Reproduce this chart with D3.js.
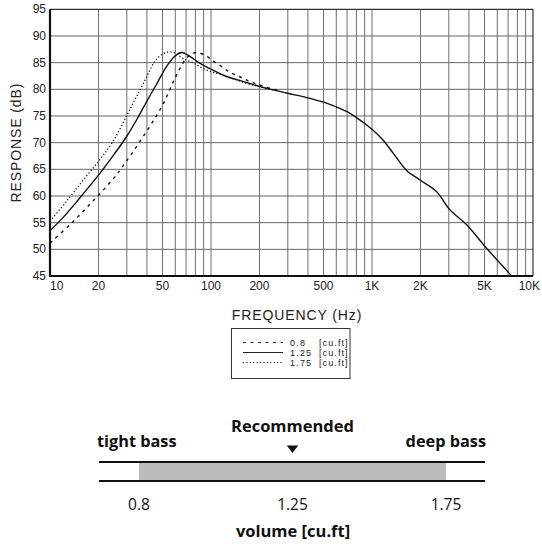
<!DOCTYPE html>
<html lang="en">
  <head>
    <meta charset="UTF-8">
    <title>Frequency Response</title>
    <style>
      body { margin: 0; background: #fff; }
    </style>
  </head>
  <body>
    <div id="chart"></div>
    <script src="https://d3js.org/d3.v7.min.js"></script>
    <script>
      // response curves (Hz / dB)
      const freq08  = [10, 13.6, 18.4, 24.7, 28.2, 35.8, 49.5, 60, 69, 75, 81.5, 93, 103, 116, 131, 150, 170, 192, 220, 260];
      const db08    = [51.2, 54.9, 59.0, 63.2, 65.5, 70.0, 76.8, 82.2, 85.5, 86.5, 86.9, 86.3, 85.3, 84.3, 83.2, 82.4, 81.6, 81.0, 80.4, 79.8];

      const freq125 = [10, 12, 15, 20, 25, 30, 35, 40, 46, 53, 60, 66, 72, 85, 103, 125, 166, 202, 295, 400, 500, 600, 700, 800, 900, 1000, 1170, 1356, 1640, 1987, 2520, 3050, 3870, 5150, 7380];
      const db125   = [53.5, 55.9, 59.3, 63.9, 67.8, 71.2, 74.6, 77.8, 81, 84.3, 86.3, 86.9, 86.4, 84.9, 83.6, 82.4, 81.3, 80.5, 79.3, 78.4, 77.6, 76.7, 75.8, 74.7, 73.6, 72.5, 70.5, 68.0, 64.8, 63.0, 60.8, 57.4, 54.6, 50.2, 45];

      const freq175 = [10, 12.5, 16, 20, 24.6, 29.9, 34, 38, 45, 50.6, 55, 60, 67, 78, 94, 113, 138, 166, 202, 260];
      const db175   = [55.3, 58.8, 62.9, 66.5, 70.2, 75, 78.3, 81.1, 85.3, 86.7, 87, 86.8, 85.8, 84.9, 83.6, 82.8, 82.0, 81.1, 80.5, 79.7];

      // axis ticks
      const xTicks = [10, 20, 50, 100, 200, 500, 1000, 2000, 5000, 10000];
      const xTickLabels = ["10", "20", "50", "100", "200", "500", "1K", "2K", "5K", "10K"];
      const yTicks = [45, 50, 55, 60, 65, 70, 75, 80, 85, 90, 95];

      // legend
      const legendValues = ["0.8", "1.25", "1.75"];
      const legendUnit = "[cu.ft]";

      // volume scale
      const volumeLabels = ["0.8", "1.25", "1.75"];
      const recommended = "1.25";

      const svg = d3.select("#chart")
        .append("svg")
        .attr("width", 542)
        .attr("height", 549);

      const plot = { left: 50, right: 533, top: 9.3, bottom: 276 };

      const x = d3.scaleLog().domain([10, 10000]).range([plot.left, plot.right]);
      const y = d3.scaleLinear().domain([45, 95]).range([plot.bottom, plot.top]);

      // grid lines
      const gridFreqs = [];
      [10, 100, 1000].forEach(function(dec) {
        for (let i = 1; i <= 9; i++) gridFreqs.push(dec * i);
      });

      svg.append("g")
        .selectAll("line")
        .data(gridFreqs.filter(f => f > 10))
        .enter()
        .append("line")
        .attr("x1", d => x(d)).attr("x2", d => x(d))
        .attr("y1", plot.top).attr("y2", plot.bottom)
        .attr("stroke", "#707070")
        .attr("stroke-width", 1);

      svg.append("g")
        .selectAll("line")
        .data(yTicks.filter(v => v > 45 && v < 95))
        .enter()
        .append("line")
        .attr("x1", plot.left).attr("x2", plot.right)
        .attr("y1", d => y(d)).attr("y2", d => y(d))
        .attr("stroke", "#666")
        .attr("stroke-width", 1);

      // frame
      svg.append("line").attr("x1", plot.left).attr("x2", plot.right)
        .attr("y1", plot.top).attr("y2", plot.top)
        .attr("stroke", "#333").attr("stroke-width", 1.2);
      svg.append("line").attr("x1", plot.right).attr("x2", plot.right)
        .attr("y1", plot.top).attr("y2", plot.bottom)
        .attr("stroke", "#333").attr("stroke-width", 1.2);
      svg.append("line").attr("x1", plot.left).attr("x2", plot.left)
        .attr("y1", plot.top).attr("y2", plot.bottom + 1)
        .attr("stroke", "#111").attr("stroke-width", 2.2);
      svg.append("line").attr("x1", plot.left - 1).attr("x2", plot.right)
        .attr("y1", plot.bottom).attr("y2", plot.bottom)
        .attr("stroke", "#111").attr("stroke-width", 2.2);

      // clip so the curve stops at the frame
      svg.append("clipPath").attr("id", "clip")
        .append("rect")
        .attr("x", plot.left).attr("y", plot.top)
        .attr("width", plot.right - plot.left)
        .attr("height", plot.bottom - plot.top);

      const line = d3.line()
        .x(d => x(d[0]))
        .y(d => y(d[1]))
        .curve(d3.curveCatmullRom.alpha(0.5));

      const series = [
        { f: freq08,  v: db08,  dash: "3,4.5", width: 1.4 },
        { f: freq125, v: db125, dash: null,    width: 1.4 },
        { f: freq175, v: db175, dash: "1.2,2.2", width: 1.3 }
      ];

      svg.append("g")
        .attr("clip-path", "url(#clip)")
        .selectAll("path")
        .data(series)
        .enter()
        .append("path")
        .attr("d", s => line(s.f.map((f, i) => [f, s.v[i]])))
        .attr("fill", "none")
        .attr("stroke", "#111")
        .attr("stroke-width", s => s.width)
        .attr("stroke-dasharray", s => s.dash);

      // tick labels; first one starts at the frame, last one ends at the page edge
      const tickFont = "Arial, 'Liberation Sans', Helvetica, sans-serif";
      const lastTick = xTicks[xTicks.length - 1];

      svg.append("g")
        .selectAll("text")
        .data(xTicks)
        .enter()
        .append("text")
        .attr("x", d => d === lastTick ? x(d) + 7 : x(d))
        .attr("y", 290)
        .attr("text-anchor", d => d === 10 ? "start" : (d === lastTick ? "end" : "middle"))
        .style("font-family", tickFont)
        .style("font-size", "12px")
        .style("fill", "#222")
        .text((d, i) => xTickLabels[i]);

      svg.append("g")
        .selectAll("text")
        .data(yTicks)
        .enter()
        .append("text")
        .attr("x", 46)
        .attr("y", d => y(d) + 4)
        .attr("text-anchor", "end")
        .style("font-family", tickFont)
        .style("font-size", "12px")
        .style("fill", "#222")
        .text(d => d);

      // axis titles
      svg.append("text")
        .attr("x", 297)
        .attr("y", 320)
        .attr("text-anchor", "middle")
        .style("font-family", tickFont)
        .style("font-size", "14px")
        .style("letter-spacing", "0.9px")
        .style("fill", "#222")
        .text("FREQUENCY (Hz)");

      svg.append("text")
        .attr("transform", "translate(21," + ((plot.top + plot.bottom) / 2) + ") rotate(-90)")
        .attr("text-anchor", "middle")
        .style("font-family", tickFont)
        .style("font-size", "14px")
        .style("letter-spacing", "0.9px")
        .style("fill", "#222")
        .text("RESPONSE (dB)");

      // legend box
      const legend = svg.append("g");
      legend.append("rect")
        .attr("x", 231.5).attr("y", 328.5)
        .attr("width", 118.5).attr("height", 50)
        .attr("fill", "none")
        .attr("stroke", "#333")
        .attr("stroke-width", 1);

      legend.selectAll("line")
        .data(series)
        .enter()
        .append("line")
        .attr("x1", 243).attr("x2", 283)
        .attr("y1", (d, i) => 342.5 + i * 10)
        .attr("y2", (d, i) => 342.5 + i * 10)
        .attr("stroke", "#222")
        .attr("stroke-width", 1.2)
        .attr("stroke-dasharray", d => d.dash);

      legend.selectAll(".lv")
        .data(legendValues)
        .enter()
        .append("text")
        .attr("class", "lv")
        .attr("x", 290)
        .attr("y", (d, i) => 345.5 + i * 10)
        .style("font-family", tickFont)
        .style("font-size", "9px")
        .style("letter-spacing", "1.2px")
        .style("fill", "#222")
        .text(d => d);

      legend.selectAll(".lu")
        .data(legendValues)
        .enter()
        .append("text")
        .attr("class", "lu")
        .attr("x", 319)
        .attr("y", (d, i) => 345.5 + i * 10)
        .style("font-family", tickFont)
        .style("font-size", "9px")
        .style("letter-spacing", "1.1px")
        .style("fill", "#222")
        .text(legendUnit);

      // volume bar
      const bold = "'Open Sans', sans-serif";
      const v = d3.scalePoint().domain(volumeLabels).range([139, 446]);

      svg.append("rect")
        .attr("x", v(volumeLabels[0]))
        .attr("y", 462)
        .attr("width", v(volumeLabels[volumeLabels.length - 1]) - v(volumeLabels[0]))
        .attr("height", 19)
        .attr("fill", "#bbbbbb");

      [462, 481].forEach(function(yy) {
        svg.append("line")
          .attr("x1", 99).attr("x2", 485)
          .attr("y1", yy).attr("y2", yy)
          .attr("stroke", "#111")
          .attr("stroke-width", 1.8);
      });

      svg.append("g")
        .selectAll("text")
        .data(volumeLabels)
        .enter()
        .append("text")
        .attr("x", d => v(d))
        .attr("y", 510)
        .attr("text-anchor", "middle")
        .style("font-family", bold)
        .style("font-size", "15.5px")
        .style("fill", "#111")
        .text(d => d);

      const rx = v(recommended);
      svg.append("path")
        .attr("d", "M" + (rx - 5.8) + ",445.5 L" + (rx + 5.8) + ",445.5 L" + rx + ",453 Z")
        .attr("fill", "#111");

      svg.append("text")
        .attr("x", rx)
        .attr("y", 431.5)
        .attr("text-anchor", "middle")
        .style("font-family", bold)
        .style("font-weight", "bold")
        .style("font-size", "16.5px")
        .style("fill", "#111")
        .text("Recommended");

      svg.append("text")
        .attr("x", 97)
        .attr("y", 447)
        .style("font-family", bold)
        .style("font-weight", "bold")
        .style("font-size", "16.3px")
        .style("fill", "#111")
        .text("tight bass");

      svg.append("text")
        .attr("x", 486)
        .attr("y", 447)
        .attr("text-anchor", "end")
        .style("font-family", bold)
        .style("font-weight", "bold")
        .style("font-size", "16.3px")
        .style("fill", "#111")
        .text("deep bass");

      svg.append("text")
        .attr("x", 293)
        .attr("y", 537)
        .attr("text-anchor", "middle")
        .style("font-family", bold)
        .style("font-weight", "bold")
        .style("font-size", "16.5px")
        .style("fill", "#111")
        .text("volume [cu.ft]");
    </script>
  </body>
</html>
